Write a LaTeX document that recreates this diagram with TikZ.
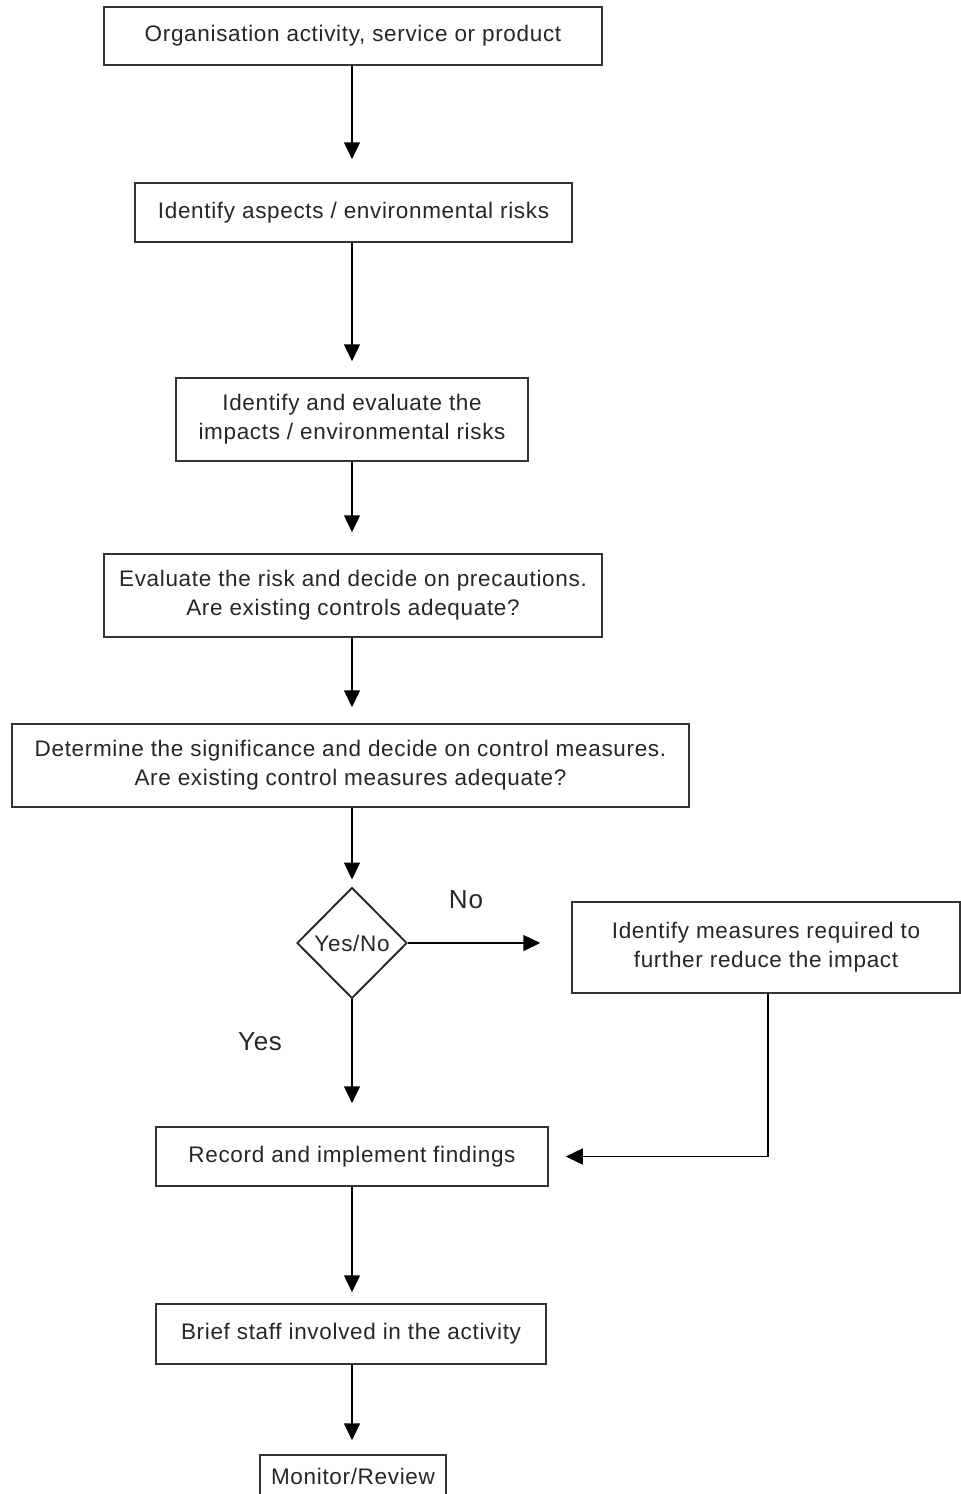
\documentclass[tikz,border=0pt]{standalone}
\usepackage{fontspec}
\setmainfont{Liberation Sans}[LetterSpace=3.0]
\usetikzlibrary{arrows.meta,shapes.geometric}
\begin{document}
\begin{tikzpicture}[x=1pt,y=-1pt,
  every node/.style={font=\fontsize{22.5}{29}\selectfont, text=black!85},
  stepbox/.style={draw=black!80, line width=1.5pt, rectangle, inner sep=0pt, align=center},
  arr/.style={draw=black, line width=1.5pt, -{Triangle[length=17pt,width=16pt]}},
  lbl/.style={font=\fontsize{26}{30}\selectfont}]
\useasboundingbox (0,0) rectangle (961,1494);
\fill[white] (0,0) rectangle (961,1494);
\node[stepbox, minimum width=498pt, minimum height=58pt] (n1) at (353,36) {Organisation activity, service or product};
\node[stepbox, minimum width=437pt, minimum height=59pt] (n2) at (353.5,212.5) {Identify aspects / environmental risks};
\node[stepbox, minimum width=352pt, minimum height=83pt] (n3) at (352,419.5) {Identify and evaluate the\\impacts / environmental risks};
\node[stepbox, minimum width=498pt, minimum height=83pt] (n4) at (353,595.5) {Evaluate the risk and decide on precautions.\\Are existing controls adequate?};
\node[stepbox, minimum width=677pt, minimum height=83pt] (n5) at (350.5,765.5) {Determine the significance and decide on control measures.\\Are existing control measures adequate?};
\node[draw=black!85, line width=1.9pt, diamond, inner sep=0pt, minimum width=110pt, minimum height=111pt] (d) at (352,943) {Yes/No};
\node[stepbox, minimum width=388pt, minimum height=91pt] (n6) at (766,947.5) {Identify measures required to\\further reduce the impact};
\node[stepbox, minimum width=392pt, minimum height=59pt] (n7) at (352,1156.5) {Record and implement findings};
\node[stepbox, minimum width=390pt, minimum height=60pt] (n8) at (351,1334) {Brief staff involved in the activity};
\node[stepbox, minimum width=186pt, minimum height=42pt] (n9) at (353,1476) {Monitor/Review};
\node[lbl] (no) at (466,900) {No};
\node[lbl] (yes) at (260,1042) {Yes};
\draw[arr, shorten >=23pt] (n1.south -| d) -- (d |- n2.north);
\draw[arr, shorten >=16pt] (n2.south -| d) -- (d |- n3.north);
\draw[arr, shorten >=21pt] (n3.south -| d) -- (d |- n4.north);
\draw[arr, shorten >=16pt] (n4.south -| d) -- (d |- n5.north);
\draw[arr, shorten >=7pt] (n5.south -| d) -- (d.north);
\draw[arr, shorten >=31pt] (d.east) -- (n6.west |- d.east);
\draw[arr, shorten >=23pt] (d.south) -- (d |- n7.north);
\draw[arr, shorten >=17pt] (n6.south -| 768,0) |- (n7.east);
\draw[arr, shorten >=11pt] (n7.south -| d) -- (d |- n8.north);
\draw[arr, shorten >=14pt] (n8.south -| d) -- (d |- n9.north);
\end{tikzpicture}
\end{document}
